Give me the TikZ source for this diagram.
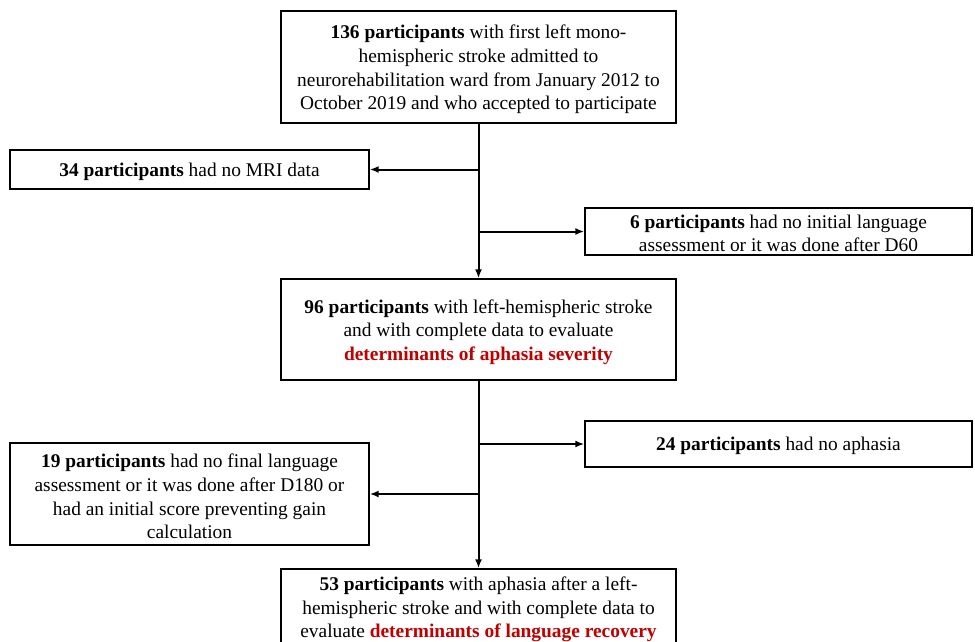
\documentclass[tikz,border=0pt]{standalone}
\usepackage{fontspec}
\setmainfont{Liberation Serif}
\usetikzlibrary{arrows.meta,calc}
\definecolor{dred}{RGB}{192,0,0}
\newcommand\fsz{\fontsize{19.4}{23.6}\selectfont}
\begin{document}
\begin{tikzpicture}[x=1pt,y=-1pt,
  box/.style={draw, line width=1.4pt, inner sep=0pt, rectangle},
  txt/.style={align=center, inner sep=0pt, font=\fsz},
  conn/.style={line width=2pt},
  arr/.style={conn, -{Latex[length=9pt,width=7pt]}}]
\useasboundingbox (0,0) rectangle (975,641);
\begin{scope}
\clip (0,0) rectangle (975,641);
\node[box, minimum width=395pt, minimum height=112pt] (top) at (478.5,67) {};
\node[txt] (ttop) at ($(top.center)+(0,2.5)$)
  {\textbf{136 participants} with first left mono-\\hemispheric stroke admitted to\\neurorehabilitation ward from January 2012 to\\October 2019 and who accepted to participate};
\node[box, minimum width=359pt, minimum height=39pt] (b34) at (189.5,169.5) {};
\node[txt] (t34) at ($(b34.center)+(0,2)$) {\textbf{34 participants} had no MRI data};
\node[box, minimum width=387pt, minimum height=47pt] (b6) at (778.5,231.5) {};
\node[txt] (t6) at ($(b6.center)+(0,2)$)
  {\textbf{6 participants} had no initial language\\assessment or it was done after D60};
\node[box, minimum width=395pt, minimum height=101pt] (b96) at (478.5,329.5) {};
\node[txt] (t96) at ($(b96.center)+(0,2.5)$)
  {\textbf{96 participants} with left-hemispheric stroke\\and with complete data to evaluate\\\textcolor{dred}{\textbf{determinants of aphasia severity}}};
\node[box, minimum width=387pt, minimum height=46pt] (b24) at (778.5,444) {};
\node[txt] (t24) at ($(b24.center)+(0,2)$) {\textbf{24 participants} had no aphasia};
\node[box, minimum width=359pt, minimum height=102pt] (b19) at (189.5,494) {};
\node[txt] (t19) at ($(b19.center)+(0,2.5)$)
  {\textbf{19 participants} had no final language\\assessment or it was done after D180 or\\had an initial score preventing gain\\calculation};
\node[box, minimum width=395pt, minimum height=80pt] (b53) at (478.5,609) {};
\node[txt] (t53) at ($(b53.center)+(0,0.5)$)
  {\textbf{53 participants} with aphasia after a left-\\hemispheric stroke and with complete data to\\evaluate \textcolor{dred}{\textbf{determinants of language recovery}}};
\coordinate (j34) at (b34.east -| top.south);
\coordinate (j6) at (b6.west -| top.south);
\coordinate (j24) at (b24.west -| b96.south);
\coordinate (j19) at (b19.east -| b96.south);
\draw[arr] (top.south) -- (b96.north);
\draw[arr] (j34) -- (b34.east);
\draw[arr] (j6) -- (b6.west);
\draw[arr] (b96.south) -- (b53.north);
\draw[arr] (j24) -- (b24.west);
\draw[arr] (j19) -- (b19.east);
\end{scope}
\end{tikzpicture}
\end{document}
